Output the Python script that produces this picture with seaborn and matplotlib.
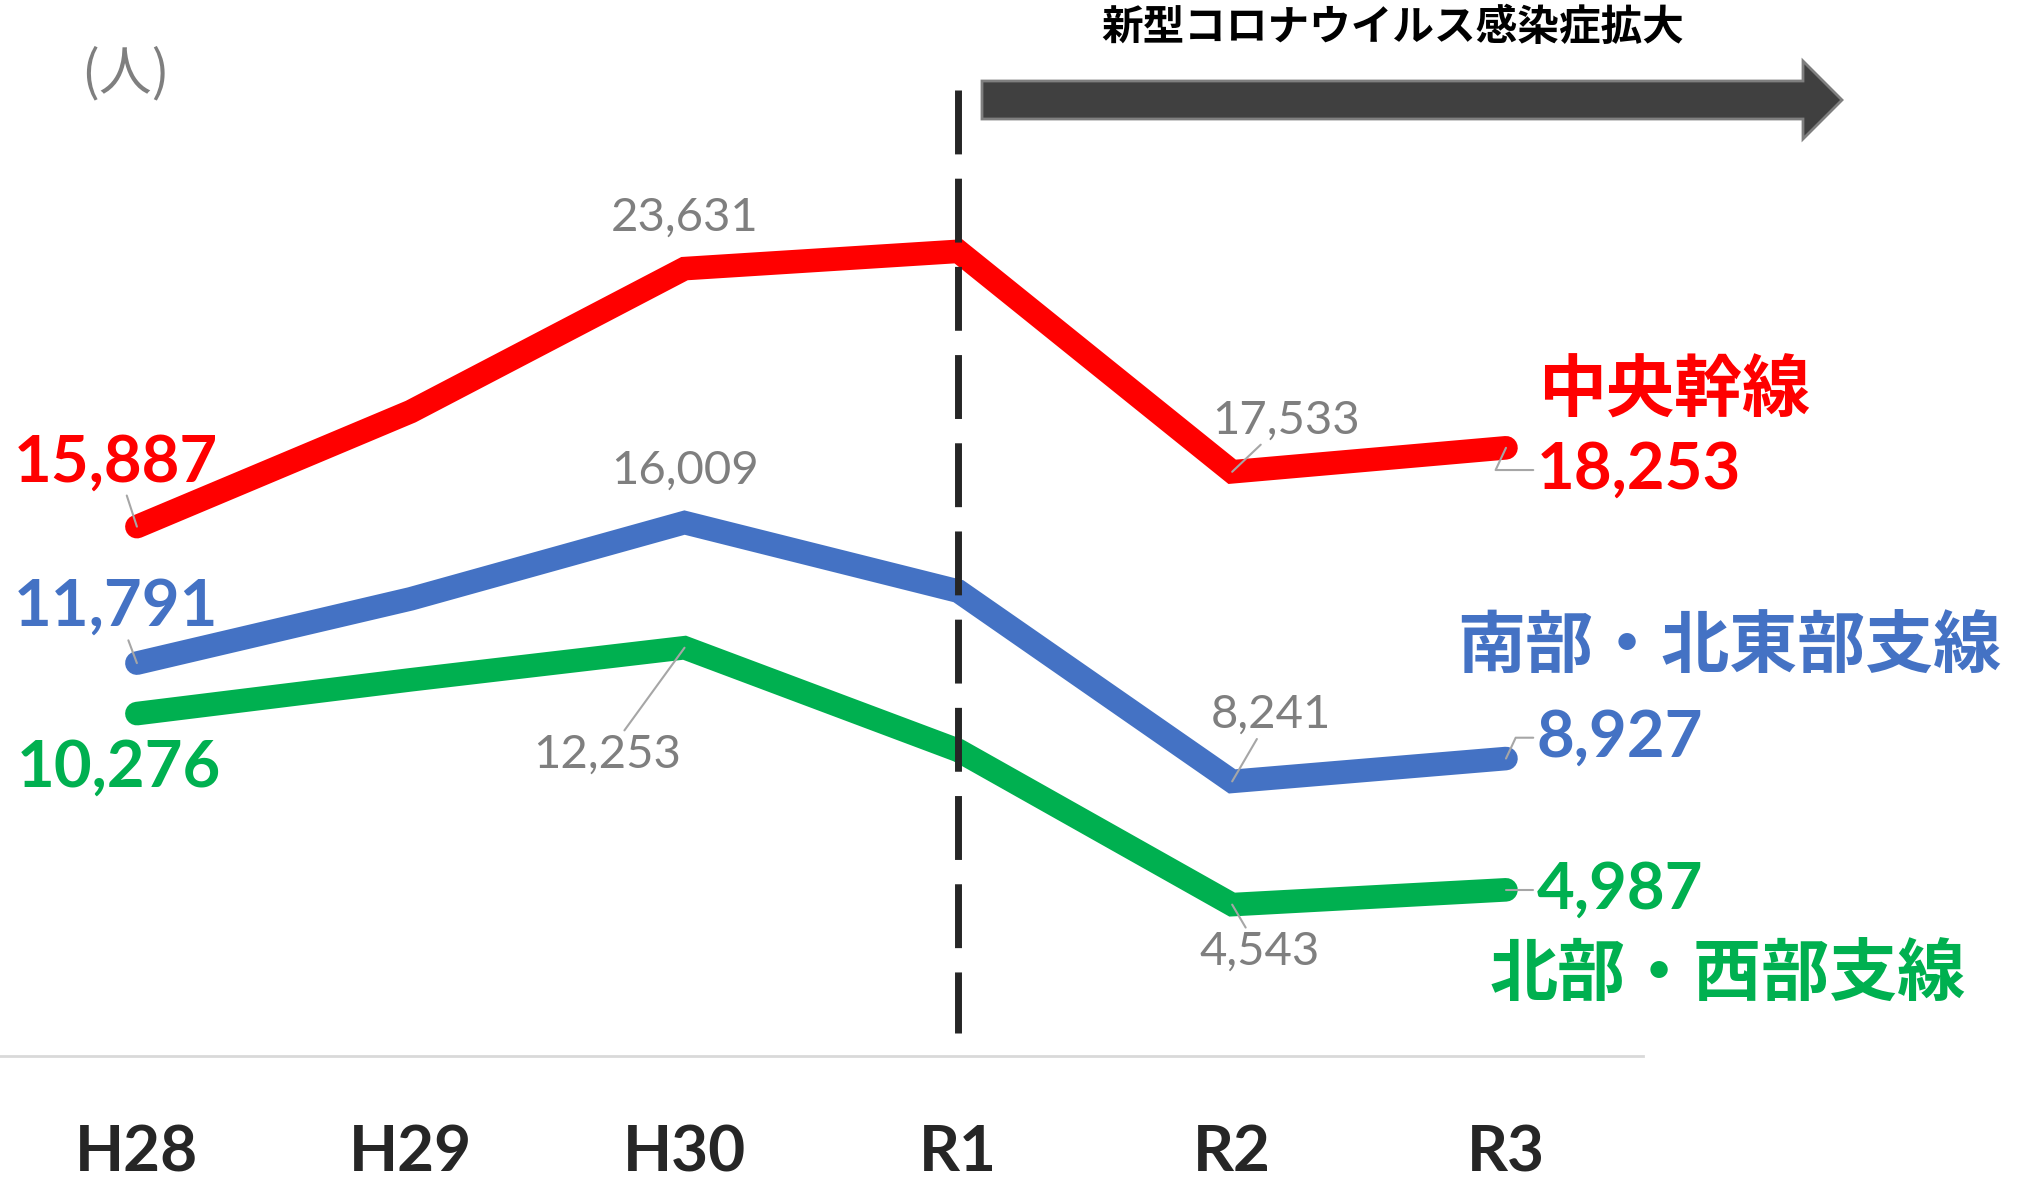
import matplotlib
matplotlib.use('Agg')
import matplotlib.pyplot as plt
import seaborn as sns
import pandas as pd
from matplotlib.patches import FancyArrow

# 年度
years = ['H28', 'H29', 'H30', 'R1', 'R2', 'R3']
# 路線別の人数 (H29, R1 は図から読み取った値)
chuo = [15887, 19340, 23631, 24150, 17533, 18253]
nanbu = [11791, 13720, 16009, 13950, 8241, 8927]
hokubu = [10276, 11290, 12253, 9170, 4543, 4987]
line_names = ['中央幹線', '南部・北東部支線', '北部・西部支線']
line_colors = ['#FF0000', '#4472C4', '#00B050']
covid_text = '新型コロナウイルス感染症拡大'
unit_text = '(人)'

sns.set_style('white')
plt.rcParams['font.family'] = ['Lato', 'Noto Sans CJK JP', 'DejaVu Sans']
cjk = ['Noto Sans CJK JP', 'DejaVu Sans']

df = pd.DataFrame({
    '年度': years * 3,
    '人数': chuo + nanbu + hokubu,
    '路線': [n for n in line_names for _ in years],
})

fig = plt.figure(figsize=(20.27, 11.8), dpi=100, facecolor='white')
ax = fig.add_axes([0, 0.1051, 0.8105, 0.8471])

sns.lineplot(data=df, x='年度', y='人数', hue='路線', hue_order=line_names,
             palette=line_colors, lw=17, sort=False, legend=False, ax=ax,
             solid_capstyle='round', solid_joinstyle='miter')

ax.set_xlim(-0.5, 5.5)
ax.set_ylim(0, 30000)
ax.set_yticks([])
ax.set_xlabel('')
ax.set_ylabel('')
for s in ['left', 'top', 'right']:
    ax.spines[s].set_visible(False)
ax.spines['bottom'].set_color('#d9d9d9')
ax.spines['bottom'].set_linewidth(2)
ax.tick_params(axis='x', length=0, pad=49, labelsize=46, labelcolor='#262626')
for t in ax.get_xticklabels():
    t.set_fontweight('bold')

# コロナ拡大の区切り線
ax.axvline(3, ymin=0.966, ymax=0.023, color='#262626', lw=5,
           dashes=(9.2, 3.5), zorder=5)

gray = '#7f7f7f'
lead = dict(arrowstyle='-', color='#a6a6a6', lw=1.5, shrinkA=0, shrinkB=0)

def label(i, vals, text, off, color, size, bold, ha='center', arrow=None, family=None):
    ax.annotate(text, xy=(i, vals[i]), xytext=off, textcoords='offset points',
                ha=ha, va='center', color=color, fontsize=size,
                fontweight='bold' if bold else 'normal',
                arrowprops=arrow, annotation_clip=False, zorder=6,
                family=family)

# 灰色のデータラベル
label(2, chuo, f'{chuo[2]:,}', (0, 37), gray, 34, False)
label(2, nanbu, f'{nanbu[2]:,}', (0, 37), gray, 34, False)
label(2, hokubu, f'{hokubu[2]:,}', (-56, -77), gray, 34, False, arrow=lead)
label(4, chuo, f'{chuo[4]:,}', (39, 37), gray, 34, False, arrow=lead)
label(4, nanbu, f'{nanbu[4]:,}', (28, 48), gray, 34, False, arrow=lead)
label(4, hokubu, f'{hokubu[4]:,}', (20, -34), gray, 34, False, arrow=lead)

# 始点・終点の強調ラベル
series = [chuo, nanbu, hokubu]
first_off = [(-15, 46), (-15, 40), (-13, -39)]
last_off = [(22, -16), (22, 15), (22, 0)]
elbow = dict(lead, connectionstyle='angle,angleA=0,angleB=65,rad=0')
for vals, c, fo, lo in zip(series, line_colors, first_off, last_off):
    label(0, vals, f'{vals[0]:,}', fo, c, 47, True,
          arrow=lead if fo[1] > 0 else None)
    label(5, vals, f'{vals[5]:,}', lo, c, 47, True, ha='left', arrow=elbow)

# 路線名
name_off = [(23, 40), (-35, 79), (-12, -62)]
for vals, name, c, no in zip(series, line_names, line_colors, name_off):
    label(5, vals, name, no, c, 49, True, ha='left', family=cjk)

# 矢印と見出し
W, H = 2027, 1180
arrow = FancyArrow(982 / W, 1 - 100 / H, (1842 - 982) / W, 0,
                   width=38 / H, head_width=78 / H, head_length=39 / W,
                   length_includes_head=True, transform=fig.transFigure,
                   fc='#404040', ec='#7f7f7f', lw=2)
fig.add_artist(arrow)
fig.text(1393 / W, 1 - 28 / H, covid_text, ha='center', va='center',
         fontsize=30, fontweight='bold', color='black', family=cjk)
fig.text(125 / W, 1 - 74 / H, unit_text, ha='center', va='center',
         fontsize=38, color=gray, family=cjk)

fig.savefig('out.png', dpi=100, facecolor='white')
